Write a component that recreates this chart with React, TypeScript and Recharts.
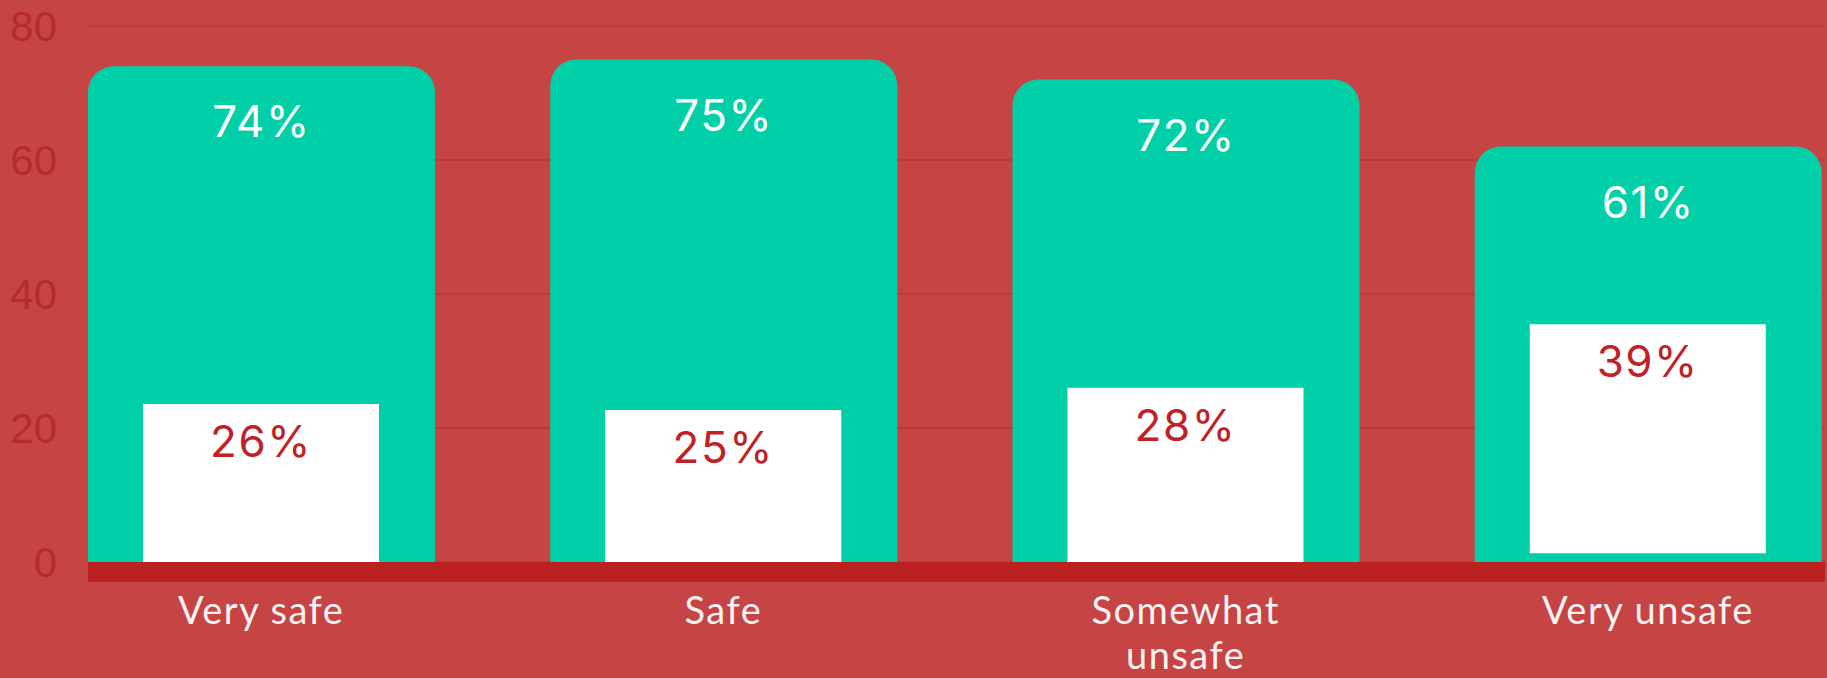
import React from "react";
import {
  BarChart,
  Bar,
  XAxis,
  YAxis,
  CartesianGrid,
  LabelList,
} from "recharts";

/* ── data ── */

const categories = ["Very safe", "Safe", "Somewhat unsafe", "Very unsafe"];

// tall green bars (drawn heights)
const greenValues = [74, 75, 72, 62];
const greenLabels = ["74%", "75%", "72%", "61%"];

// white inner bars, drawn as [low, high] ranges
const whiteLow = [0, 0, 0, 1.3];
const whiteHigh = [23.6, 22.7, 26, 35.5];
const whiteLabels = ["26%", "25%", "28%", "39%"];

const yTicks = [0, 20, 40, 60, 80];

const data = categories.map((name, i) => ({
  name,
  green: greenValues[i],
  white: [whiteLow[i], whiteHigh[i]],
}));

/* ── colours ── */
const BG = "#C64444";
const GRID = "#BD3939";
const TEAL = "#00CFA8";
const BAND = "#BC2121";
const TICK_RED = "#B92B2B";
const LABEL_RED = "#BF2127";

const pctFont = "Inter, 'Open Sans', sans-serif";

/** crude word wrap: long labels break after the first word */
function wrapLabel(s: string): string[] {
  const words = s.split(" ");
  if (s.length <= 12 || words.length < 2) return [s];
  return [words[0], words.slice(1).join(" ")];
}

function CategoryTick(props: any) {
  const { x, y, payload } = props;
  const lines = wrapLabel(String(payload.value));
  return (
    <text
      x={x}
      y={y}
      textAnchor="middle"
      fontFamily="Lato, sans-serif"
      fontSize={38}
      letterSpacing={1.5}
      fill="#F8F2F2"
    >
      {lines.map((line, i) => (
        <tspan key={i} x={x} dy={i === 0 ? 26 : 45}>
          {line}
        </tspan>
      ))}
    </text>
  );
}

function greenLabel(props: any) {
  const { x, y, width, index } = props;
  return (
    <text
      x={x + width / 2}
      y={y + 71}
      textAnchor="middle"
      fontFamily={pctFont}
      fontSize={44}
      letterSpacing={1.5}
      fill="#FFFFFF"
    >
      {greenLabels[index]}
    </text>
  );
}

function whiteLabel(props: any) {
  const { x, y, width, index } = props;
  return (
    <text
      x={x + width / 2}
      y={y + 53}
      textAnchor="middle"
      fontFamily={pctFont}
      fontSize={44}
      letterSpacing={1.5}
      fill={LABEL_RED}
    >
      {whiteLabels[index]}
    </text>
  );
}

export default function App() {
  return (
    <div
      style={{
        position: "fixed",
        left: 0,
        top: 0,
        width: 1827,
        height: 678,
        background: BG,
      }}
    >
      <BarChart
        width={1827}
        height={678}
        data={data}
        margin={{ top: 26, right: 2, bottom: 0, left: 0 }}
      >
        <CartesianGrid vertical={false} stroke={GRID} strokeWidth={2} />
        <YAxis
          domain={[0, 80]}
          ticks={yTicks}
          width={88}
          axisLine={false}
          tickLine={false}
          tickSize={0}
          tickMargin={31}
          tick={{
            fill: TICK_RED,
            fontSize: 42,
            fontFamily: "'Liberation Sans', Arial, sans-serif",
          }}
        />
        <Bar
          dataKey="green"
          xAxisId={0}
          fill={TEAL}
          barSize={347}
          radius={[26, 26, 0, 0]}
          isAnimationActive={false}
        >
          <LabelList dataKey="green" content={greenLabel} />
        </Bar>
        <Bar
          dataKey="white"
          xAxisId="w"
          fill="#FFFFFF"
          barSize={236}
          isAnimationActive={false}
        >
          <LabelList dataKey="white" content={whiteLabel} />
        </Bar>
        <XAxis
          dataKey="name"
          xAxisId="w"
          hide
          padding={{ left: -58, right: -54 }}
        />
        <XAxis
          dataKey="name"
          xAxisId={0}
          height={116}
          padding={{ left: -58, right: -54 }}
          interval={0}
          axisLine={{
            stroke: BAND,
            strokeWidth: 20,
            transform: "translate(0 10)",
          }}
          tickLine={false}
          tickSize={0}
          tickMargin={36}
          tick={<CategoryTick />}
        />
      </BarChart>
    </div>
  );
}
